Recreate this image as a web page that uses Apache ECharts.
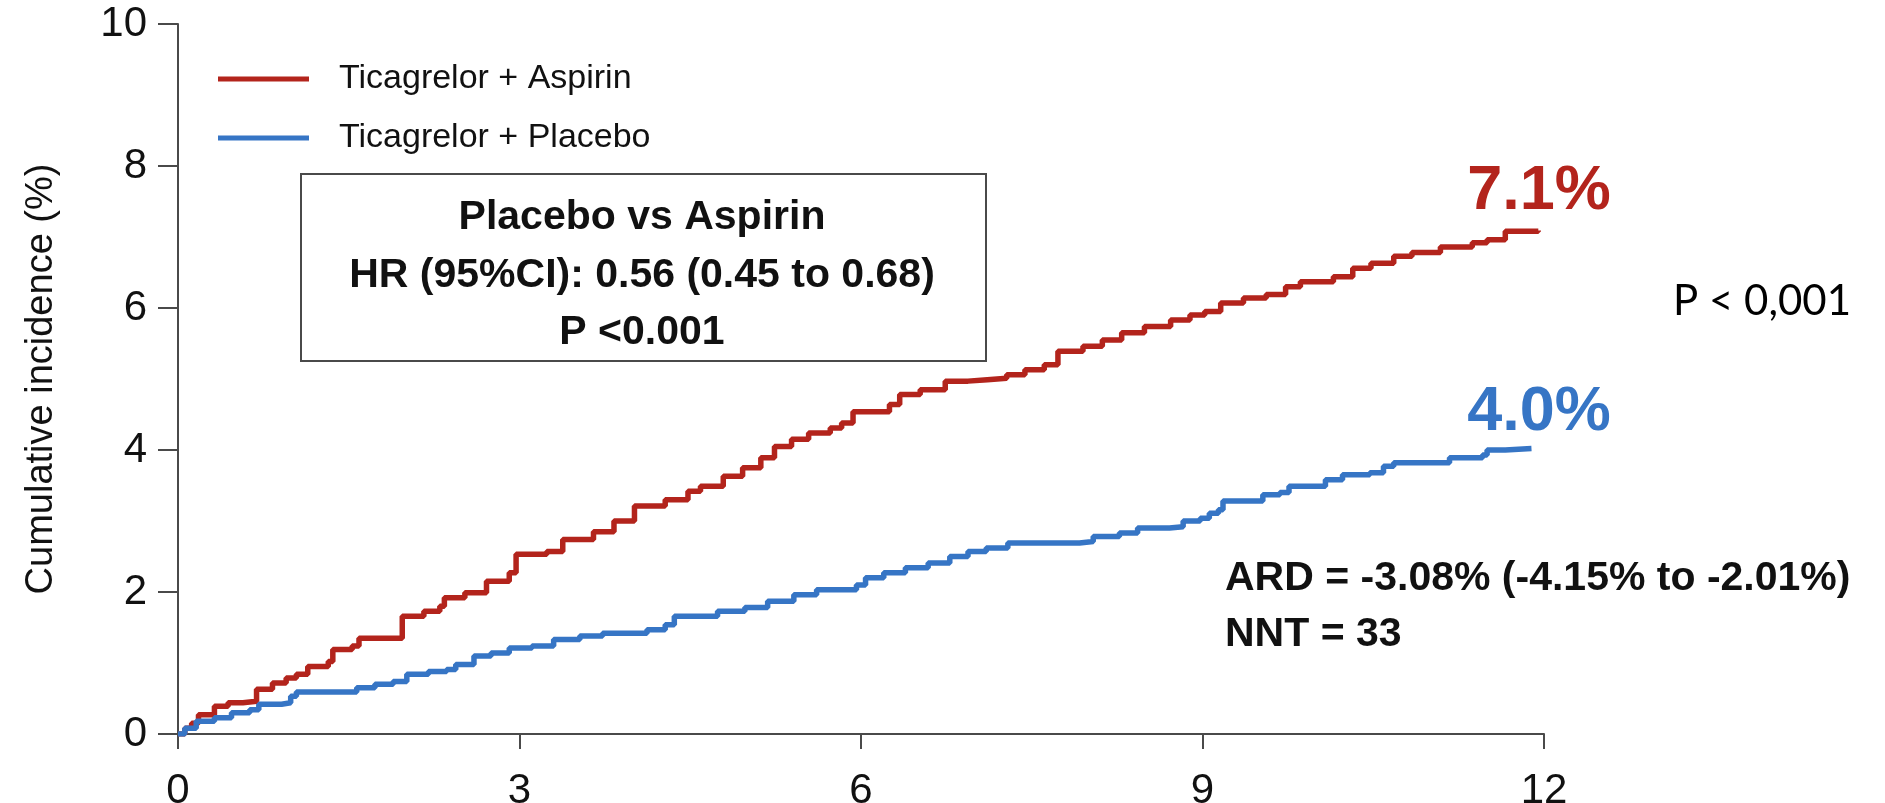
<!DOCTYPE html>
<html>
<head>
<meta charset="utf-8">
<script src="https://cdn.jsdelivr.net/npm/echarts@6/dist/echarts.min.js"></script>
<style>
html,body{margin:0;padding:0;background:#fff;}
#chart{width:1885px;height:803px;}
</style>
</head>
<body>
<div id="chart"></div>
<script>
// ---- Data ----
const seriesNames = ['Ticagrelor + Aspirin', 'Ticagrelor + Placebo'];
const xTicks = [0, 3, 6, 9, 12];
const yTicks = [0, 2, 4, 6, 8, 10];

const aspirinTimes = [0, 0.06, 0.12, 0.18, 0.32, 0.44, 0.57, 0.69, 0.83, 0.95, 1.04, 1.14, 1.32, 1.36, 1.53, 1.59, 1.97, 2.16, 2.30, 2.34, 2.52, 2.71, 2.91, 2.97, 3.24, 3.38, 3.65, 3.83, 4.01, 4.28, 4.48, 4.59, 4.79, 4.96, 5.12, 5.24, 5.39, 5.54, 5.73, 5.83, 5.93, 6.25, 6.34, 6.52, 6.74, 6.94, 7.11, 7.28, 7.44, 7.61, 7.73, 7.95, 8.12, 8.29, 8.49, 8.72, 8.89, 9.02, 9.16, 9.36, 9.56, 9.73, 9.86, 10.15, 10.32, 10.48, 10.68, 10.84, 11.09, 11.37, 11.50, 11.66, 11.95];
const aspirinValues = [0, 0.08, 0.15, 0.27, 0.39, 0.44, 0.46, 0.63, 0.72, 0.79, 0.84, 0.95, 1.02, 1.19, 1.24, 1.35, 1.66, 1.73, 1.80, 1.92, 1.99, 2.15, 2.27, 2.53, 2.57, 2.74, 2.85, 3.00, 3.21, 3.30, 3.42, 3.49, 3.63, 3.75, 3.89, 4.05, 4.15, 4.24, 4.31, 4.38, 4.54, 4.64, 4.78, 4.85, 4.97, 4.99, 5.01, 5.06, 5.13, 5.20, 5.39, 5.46, 5.55, 5.65, 5.74, 5.83, 5.90, 5.95, 6.07, 6.14, 6.19, 6.30, 6.37, 6.44, 6.56, 6.63, 6.73, 6.78, 6.86, 6.92, 6.96, 7.08, 7.09];

const placeboTimes = [0, 0.06, 0.16, 0.32, 0.47, 0.63, 0.71, 0.91, 0.99, 1.04, 1.57, 1.73, 1.89, 2.01, 2.20, 2.36, 2.44, 2.60, 2.75, 2.91, 3.11, 3.30, 3.53, 3.73, 4.12, 4.28, 4.36, 4.74, 4.98, 5.18, 5.41, 5.61, 5.96, 6.04, 6.20, 6.39, 6.59, 6.78, 6.94, 7.10, 7.29, 7.92, 8.04, 8.27, 8.43, 8.71, 8.83, 8.98, 9.06, 9.14, 9.18, 9.53, 9.68, 9.76, 10.08, 10.23, 10.47, 10.59, 10.68, 11.17, 11.46, 11.50, 11.66, 11.89];
const placeboValues = [0, 0.08, 0.18, 0.23, 0.30, 0.34, 0.42, 0.44, 0.53, 0.59, 0.65, 0.70, 0.74, 0.84, 0.88, 0.91, 0.98, 1.10, 1.14, 1.21, 1.24, 1.33, 1.38, 1.42, 1.47, 1.54, 1.66, 1.73, 1.78, 1.87, 1.96, 2.03, 2.10, 2.20, 2.27, 2.34, 2.41, 2.50, 2.57, 2.62, 2.69, 2.71, 2.78, 2.83, 2.90, 2.92, 3.00, 3.04, 3.11, 3.16, 3.28, 3.37, 3.40, 3.49, 3.58, 3.65, 3.68, 3.77, 3.82, 3.89, 3.93, 4.00, 4.02, 4.02];

const endLabels = ['7.1%', '4.0%'];
const boxLines = ['Placebo vs Aspirin', 'HR (95%CI): 0.56 (0.45 to 0.68)', 'P <0.001'];
const pText = 'P < 0,001';
const ardLines = ['ARD = -3.08% (-4.15% to -2.01%)', 'NNT = 33'];
const yAxisTitle = 'Cumulative incidence (%)';

const RED = '#B3241C';
const BLUE = '#3675C5';
const AXIS = '#4a4a4a';
const TXT = '#111111';
const FONT = '"Liberation Sans", Arial, Helvetica, sans-serif';

function pairs(t, v) { return t.map((x, i) => [x, v[i]]); }

const chart = echarts.init(document.getElementById('chart'), null, {renderer: 'canvas'});

const option = {
  animation: false,
  backgroundColor: '#ffffff',
  grid: {left: 178, right: 341, top: 24, bottom: 69, containLabel: false, outerBoundsMode: 'none'},
  legend: {
    data: seriesNames,
    orient: 'vertical',
    left: 213,
    top: 57,
    itemWidth: 91,
    itemHeight: 5,
    itemGap: 25,
    icon: 'rect',
    textStyle: {fontFamily: FONT, fontSize: 34, color: TXT, lineHeight: 34, padding: [0, 0, 0, 25]}
  },
  xAxis: {
    type: 'value', min: 0, max: 12, interval: 3,
    axisLine: {show: true, onZero: false, lineStyle: {color: AXIS, width: 2}},
    axisTick: {show: true, length: 15, lineStyle: {color: AXIS, width: 2}},
    splitLine: {show: false},
    axisLabel: {fontFamily: FONT, fontSize: 42, color: TXT, margin: 36,
      formatter: v => xTicks.includes(v) ? String(v) : ''}
  },
  yAxis: {
    type: 'value', min: 0, max: 10, interval: 2,
    name: yAxisTitle, nameLocation: 'middle', nameGap: 117,
    nameTextStyle: {fontFamily: FONT, fontSize: 38, color: TXT},
    axisLine: {show: true, onZero: false, lineStyle: {color: AXIS, width: 2}},
    axisTick: {show: true, length: 20, lineStyle: {color: AXIS, width: 2}},
    splitLine: {show: false},
    axisLabel: {fontFamily: FONT, fontSize: 42, color: TXT, margin: 31,
      formatter: v => yTicks.includes(v) ? String(v) : ''}
  },
  series: [
    {name: seriesNames[0], type: 'line', step: 'end', showSymbol: false, symbol: 'none',
     color: RED, lineStyle: {color: RED, width: 5.5}, data: pairs(aspirinTimes, aspirinValues), z: 2},
    {name: seriesNames[1], type: 'line', step: 'end', showSymbol: false, symbol: 'none',
     color: BLUE, lineStyle: {color: BLUE, width: 5.5}, data: pairs(placeboTimes, placeboValues), z: 3}
  ],
  graphic: [
    {type: 'rect', left: 300, top: 173, shape: {width: 685, height: 187},
     style: {fill: 'rgba(0,0,0,0)', stroke: AXIS, lineWidth: 2}},
    {type: 'text', x: 642, y: 218, style: {text: boxLines[0], fontFamily: FONT, fontWeight: 'bold', fontSize: 41, fill: TXT, align: 'center', verticalAlign: 'middle'}},
    {type: 'text', x: 642, y: 276, style: {text: boxLines[1], fontFamily: FONT, fontWeight: 'bold', fontSize: 41, fill: TXT, align: 'center', verticalAlign: 'middle'}},
    {type: 'text', x: 642, y: 333, style: {text: boxLines[2], fontFamily: FONT, fontWeight: 'bold', fontSize: 41, fill: TXT, align: 'center', verticalAlign: 'middle'}},
    {type: 'text', x: 1539, y: 192, style: {text: endLabels[0], fontFamily: FONT, fontWeight: 'bold', fontSize: 63, fill: RED, align: 'center', verticalAlign: 'middle'}},
    {type: 'text', x: 1539, y: 413, style: {text: endLabels[1], fontFamily: FONT, fontWeight: 'bold', fontSize: 63, fill: BLUE, align: 'center', verticalAlign: 'middle'}},
    {type: 'text', x: 1673, y: 301, style: {text: pText, fontFamily: 'Lato, "Open Sans", sans-serif', fontSize: 42, fill: '#000', align: 'left', verticalAlign: 'middle'}},
    {type: 'text', x: 1225, y: 579, style: {text: ardLines[0], fontFamily: FONT, fontWeight: 'bold', fontSize: 41, fill: TXT, align: 'left', verticalAlign: 'middle'}},
    {type: 'text', x: 1225, y: 635, style: {text: ardLines[1], fontFamily: FONT, fontWeight: 'bold', fontSize: 41, fill: TXT, align: 'left', verticalAlign: 'middle'}}
  ]
};
chart.setOption(option);
</script>
</body>
</html>
